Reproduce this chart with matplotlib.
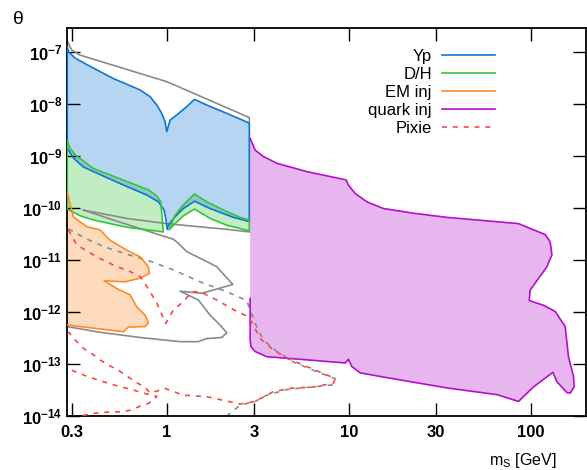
import numpy as np
import matplotlib
matplotlib.use('Agg')
import matplotlib.pyplot as plt

plt.rcParams['font.family'] = ['Liberation Sans', 'DejaVu Sans']
plt.rcParams['mathtext.fontset'] = 'custom'
plt.rcParams['mathtext.rm'] = 'Liberation Sans'
plt.rcParams['mathtext.it'] = 'Liberation Sans:italic'
plt.rcParams['mathtext.bf'] = 'Liberation Sans:bold'

# masses in GeV, couplings given as log10(theta)

# Yp band (upper / lower edge)
yp_hi_m = [0.283, 0.287, 0.313, 0.394, 0.507, 0.711, 0.807, 0.878, 0.935, 0.975, 0.996,
           1.039, 1.130, 1.283, 1.413, 1.652, 2.128, 2.52, 2.83]
yp_hi_t = [-6.90, -6.99, -7.12, -7.31, -7.51, -7.73, -7.86, -8.02, -8.18, -8.34, -8.53,
           -8.31, -8.21, -8.05, -7.91, -8.02, -8.18, -8.29, -8.37]
yp_lo_m = [0.283, 0.306, 0.347, 0.394, 0.552, 0.774, 0.896, 0.963, 0.987, 1.0, 1.03,
           1.106, 1.229, 1.413, 1.722, 2.313, 2.83]
yp_lo_t = [-8.85, -9.04, -9.21, -9.30, -9.53, -9.75, -9.88, -10.04, -10.23, -10.41, -10.30,
           -10.17, -10.01, -9.87, -10.01, -10.18, -10.26]

# D/H band, two pieces (below and above 1 GeV)
dh1_hi_m = [0.283, 0.293, 0.313, 0.394, 0.601, 0.789, 0.878, 0.923, 0.939, 0.954]
dh1_hi_t = [-8.72, -8.85, -8.98, -9.24, -9.49, -9.65, -9.77, -9.88, -10.17, -10.46]
dh1_lo_m = [0.283, 0.333, 0.394, 0.601, 0.954]
dh1_lo_t = [-10.02, -10.15, -10.23, -10.37, -10.46]
dh2_hi_m = [1.03, 1.106, 1.229, 1.413, 1.652, 2.128, 2.52, 2.83]
dh2_hi_t = [-10.41, -10.14, -9.94, -9.73, -9.88, -10.07, -10.18, -10.23]
dh2_lo_m = [1.03, 1.083, 1.229, 1.413, 1.722, 2.128, 2.83]
dh2_lo_t = [-10.41, -10.33, -10.15, -10.02, -10.20, -10.33, -10.44]

# EM injection region
em_m = [0.282, 0.306, 0.362, 0.428, 0.486, 0.601, 0.711, 0.789, 0.799, 0.711, 0.588,
        0.451, 0.530, 0.626, 0.681, 0.757, 0.789, 0.757, 0.613, 0.575, 0.283]
em_t = [-9.69, -10.17, -10.36, -10.42, -10.62, -10.81, -10.94, -11.13, -11.26, -11.35, -11.42,
        -11.40, -11.55, -11.67, -11.90, -12.06, -12.21, -12.28, -12.29, -12.38, -12.25]

# quark injection region (outline starts on the left edge, goes round from the bottom)
qk_m = [2.858, 2.858, 2.89, 3.045, 3.53, 5.857, 9.51, 9.91, 10.35, 11.49, 14.8, 34.4, 65.0,
        85.2, 103, 131.6, 138.4, 157, 163.8, 172.2, 170.8, 160.3, 153.7, 135.5, 116.8, 97.5,
        98.7, 122, 130, 127.1, 119.4, 103, 85.2, 34.4, 22.55, 15.43, 12.51, 10.79, 9.91,
        9.627, 5.857, 4.006, 3.382, 3.045, 2.858]
qk_t = [-11.74, -12.54, -12.67, -12.76, -12.86, -12.92, -12.98, -12.91, -13.05, -13.17, -13.24,
        -13.46, -13.59, -13.72, -13.44, -13.16, -13.34, -13.55, -13.56, -13.44, -13.24, -12.86,
        -12.28, -11.99, -11.87, -11.78, -11.58, -11.13, -10.90, -10.65, -10.51, -10.42, -10.30,
        -10.18, -10.10, -10.01, -9.88, -9.72, -9.56, -9.46, -9.30, -9.14, -9.01, -8.885, -8.66]

# grey solid curves
gr_top_m = [0.282, 0.299, 0.333, 0.996, 2.83, 2.83]
gr_top_t = [-6.77, -6.96, -7.06, -7.57, -8.26, -8.37]
gr_a_m = [0.347, 0.601, 0.996, 1.395, 2.128, 2.83]
gr_a_t = [-10.04, -10.20, -10.30, -10.35, -10.41, -10.46]
gr_b_m = [0.347, 0.507, 0.915, 1.083, 1.154, 1.283, 1.652, 1.875, 2.296, 1.551, 1.179, 1.486,
          1.722, 1.954, 2.128, 1.998, 1.652, 1.486, 1.179, 0.711, 0.428, 0.282]
gr_b_t = [-10.04, -10.23, -10.52, -10.60, -10.68, -10.84, -11.03, -11.13, -11.47, -11.64, -11.60,
          -11.77, -12.06, -12.25, -12.40, -12.49, -12.51, -12.57, -12.57, -12.49, -12.39, -12.28]

# Pixie (red dashed)
px1_m = [0.287, 0.319, 0.411, 0.530, 0.601, 0.711, 0.774, 0.878, 0.984, 1.083, 1.229, 1.367,
         1.518, 1.875, 2.414, 2.797, 2.98, 3.24, 3.84, 4.55, 5.86, 7.54, 8.38, 8.20, 6.37, 4.74,
         3.84, 3.045, 2.52, 2.17, 1.652, 1.229, 0.975, 0.807, 0.757, 0.667, 0.601, 0.540, 0.476,
         0.428, 0.386, 0.347, 0.313, 0.287]
px1_t = [-10.42, -10.71, -10.94, -11.13, -11.19, -11.32, -11.51, -11.83, -12.22, -11.96, -11.80,
         -11.61, -11.61, -11.77, -11.99, -12.09, -12.25, -12.51, -12.73, -12.89, -13.05, -13.21,
         -13.28, -13.37, -13.44, -13.47, -13.53, -13.72, -13.77, -13.72, -13.63, -13.60, -13.47,
         -13.56, -13.45, -13.34, -13.23, -13.12, -13.02, -12.92, -12.80, -12.70, -12.54, -12.38]
px2_m = [0.2996, 0.347, 0.394, 0.447, 0.507, 0.575, 0.653, 0.741, 0.878, 0.859, 0.789, 0.711,
         0.626, 0.552, 0.486, 0.394, 0.333]
px2_t = [-13.12, -13.21, -13.28, -13.34, -13.40, -13.45, -13.50, -13.56, -13.62, -13.67, -13.76,
         -13.81, -13.89, -13.92, -13.92, -13.95, -14.0]

# grey dashed
gd_m = [0.287, 0.354, 0.447, 0.601, 0.774, 1.083, 1.518, 2.128, 2.74, 2.858, 3.045, 3.38, 4.006,
        4.94, 6.65, 8.38, 8.20, 6.37, 4.55, 3.53, 3.045, 2.52, 2.128]
gd_t = [-10.40, -10.58, -10.74, -10.89, -11.0, -11.19, -11.42, -11.61, -11.78, -11.96, -12.22,
        -12.54, -12.76, -12.96, -13.15, -13.28, -13.40, -13.44, -13.49, -13.60, -13.72, -13.79, -14.0]

c_yp = '#0f75d4'
c_dh = '#33c43a'
c_em = '#ff8a26'
c_qk = '#b30fcc'
c_px = '#ff4444'
c_gr = '#8a8a8a'


def band(m_hi, t_hi, m_lo, t_lo):
    m = np.concatenate([m_hi, m_lo[::-1], m_hi[:1]])
    t = np.concatenate([t_hi, t_lo[::-1], t_hi[:1]])
    return m, 10.0 ** t


fig = plt.figure(figsize=(5.87, 4.70), dpi=100)
ax = fig.add_axes([67 / 587, 54 / 470, 519 / 587, 388 / 470])
ax.set_xscale('log')
ax.set_yscale('log')

lw = 1.2
dash = (0, (3, 3.5))

# fills
m, y = band(dh1_hi_m, dh1_hi_t, dh1_lo_m, dh1_lo_t)
ax.fill(m, y, color=c_dh, alpha=0.3, lw=0, zorder=1)
m2, y2 = band(dh2_hi_m, dh2_hi_t, dh2_lo_m, dh2_lo_t)
ax.fill(m2, y2, color=c_dh, alpha=0.3, lw=0, zorder=1)
my, yy = band(yp_hi_m, yp_hi_t, yp_lo_m, yp_lo_t)
ax.fill(my, yy, color=c_yp, alpha=0.3, lw=0, zorder=1)
ax.fill(em_m, 10.0 ** np.array(em_t), color=c_em, alpha=0.3, lw=0, zorder=1)
ax.fill(qk_m, 10.0 ** np.array(qk_t), color=c_qk, alpha=0.3, lw=0, zorder=1)

# grey curves
ax.plot(gr_top_m, 10.0 ** np.array(gr_top_t), color=c_gr, lw=lw, zorder=2)
ax.plot(gr_a_m, 10.0 ** np.array(gr_a_t), color=c_gr, lw=lw, zorder=2)
ax.plot(gr_b_m, 10.0 ** np.array(gr_b_t), color=c_gr, lw=lw, zorder=2)
ax.plot(gd_m, 10.0 ** np.array(gd_t), color=c_gr, lw=lw, ls=dash, zorder=2)

# outlines
ax.plot(my, yy, color=c_yp, lw=lw, zorder=3)
ax.plot(m, y, color=c_dh, lw=lw, zorder=3)
ax.plot(m2, y2, color=c_dh, lw=lw, zorder=3)
ax.plot(em_m, 10.0 ** np.array(em_t), color=c_em, lw=lw, zorder=3)
ax.plot(qk_m, 10.0 ** np.array(qk_t), color=c_qk, lw=lw, zorder=3)

ax.plot(px1_m, 10.0 ** np.array(px1_t), color=c_px, lw=lw, ls=dash, zorder=4)
ax.plot(px2_m, 10.0 ** np.array(px2_t), color=c_px, lw=lw, ls=dash, zorder=4)

# legend
h = [plt.Line2D([], [], color=c_yp, lw=lw),
     plt.Line2D([], [], color=c_dh, lw=lw),
     plt.Line2D([], [], color=c_em, lw=lw),
     plt.Line2D([], [], color=c_qk, lw=lw),
     plt.Line2D([], [], color=c_px, lw=lw, ls=dash)]
labels = ['Yp', 'D/H', 'EM inj', 'quark inj', 'Pixie']
ax.legend(h, labels, loc='upper right', bbox_to_anchor=(0.825, 0.947), frameon=False,
          markerfirst=False, fontsize=12, handlelength=3.2, handletextpad=0.6,
          labelspacing=0.18, borderaxespad=0, borderpad=0)

ax.set_xlim(0.282, 200)
ax.set_ylim(1e-14, 10 ** -6.538)

xt = [0.3, 1, 3, 10, 30, 100]
ax.set_xticks(xt)
ax.set_xticklabels(['0.3', '1', '3', '10', '30', '100'], fontweight='bold', fontsize=12)
yt = [-14, -13, -12, -11, -10, -9, -8, -7]
ax.set_yticks([10.0 ** e for e in yt])
ax.set_yticklabels([r'$\mathbf{10^{%d}}$' % e for e in yt], fontsize=12)
ax.minorticks_off()
ax.tick_params(which='both', direction='in', top=True, right=True, length=9.5, width=1.0)
ax.tick_params(axis='x', pad=6.5)
ax.tick_params(axis='y', pad=3.5)
for s in ax.spines.values():
    s.set_linewidth(1.3)

fig.text(18 / 587, 1 - 19 / 470, '\u03b8', fontsize=14, ha='center', va='center')
fig.text(523 / 587, 1 - 460 / 470, r'm$_\mathregular{S}$ [GeV]', fontsize=11.5,
         ha='center', va='center')

fig.savefig('out.png', dpi=100)
